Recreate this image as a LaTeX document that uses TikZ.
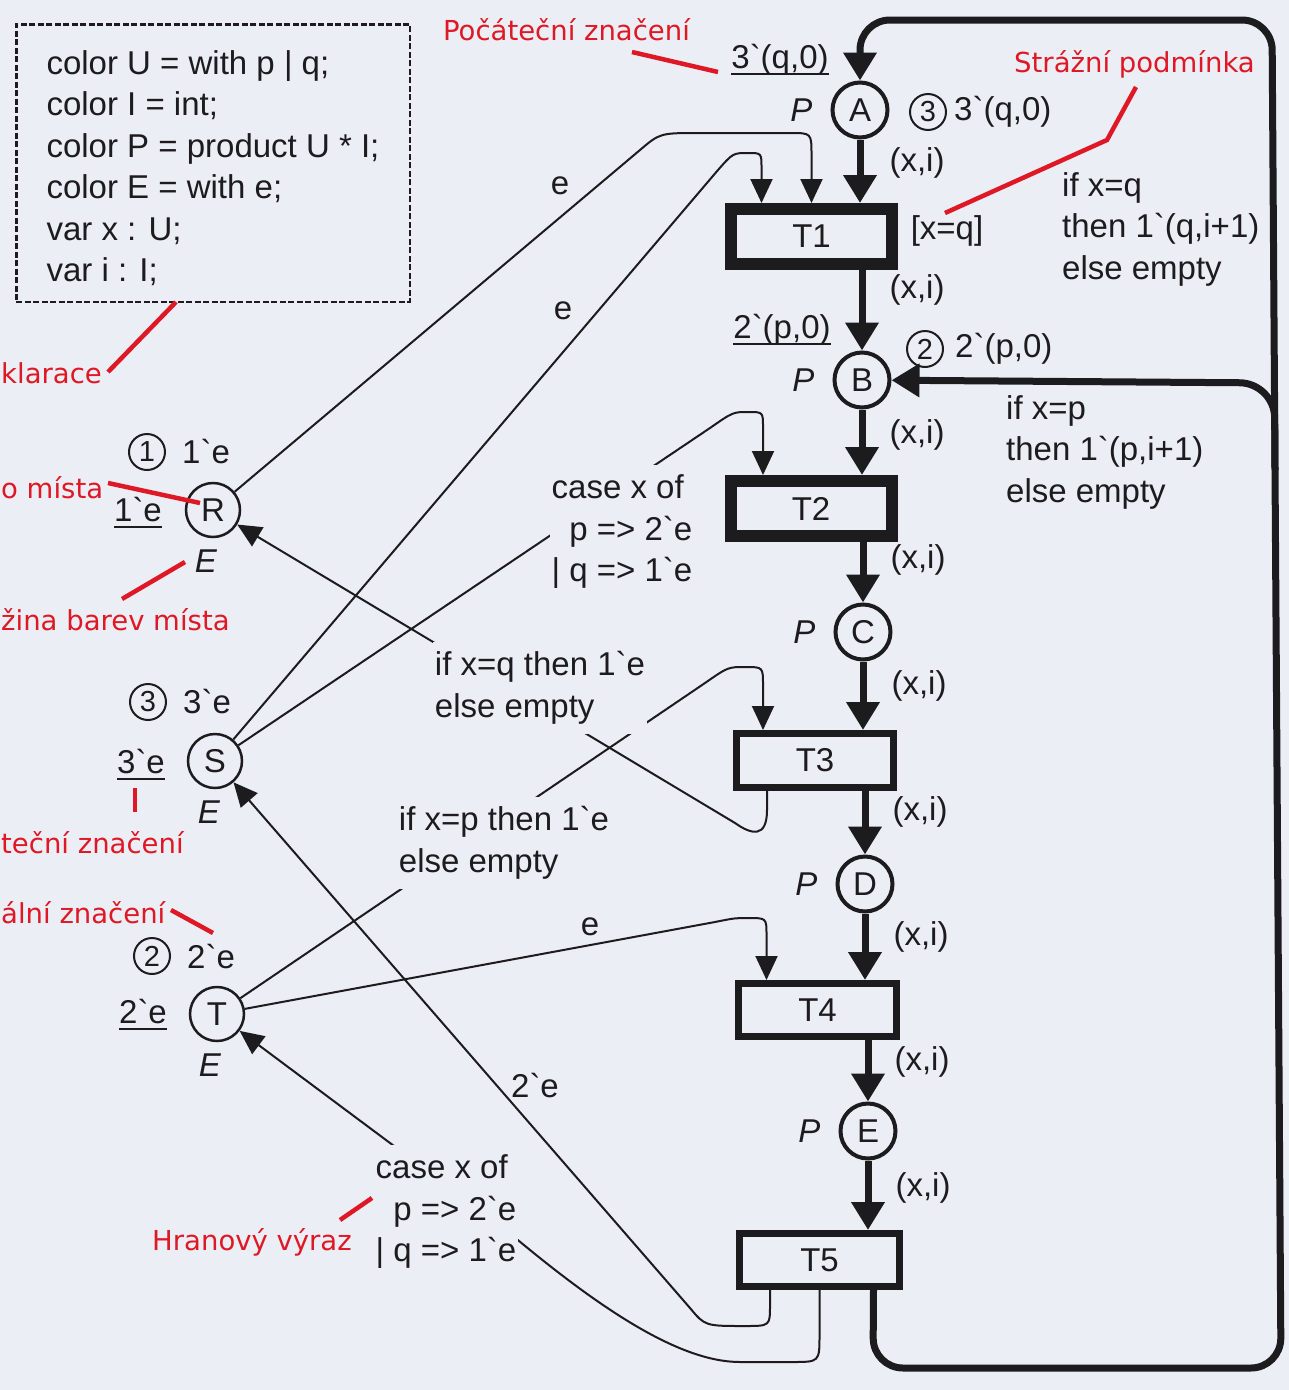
\documentclass[tikz,border=0pt]{standalone}
\usepackage{fontspec}
\setmainfont{Liberation Sans}
\newfontfamily\notefont{DejaVu Sans}
\usetikzlibrary{arrows.meta,positioning,calc}
\definecolor{paper}{RGB}{236,238,246}
\definecolor{ink}{RGB}{28,28,30}
\definecolor{notered}{RGB}{222,24,36}
\newcommand{\tk}{\textasciigrave}
\newsavebox\initbox
\newcommand{\initm}[1]{\sbox\initbox{#1}\rlap{\vrule width\wd\initbox height -4pt depth 6.5pt}\usebox\initbox}
\tikzset{
  place/.style={circle,draw=ink,line width=4pt,minimum size=55pt,inner sep=0pt,
    text=ink,font=\fontsize{33}{36}\selectfont},
  eplace/.style={place,line width=2.5pt,minimum size=54pt},
  trans/.style={rectangle,draw=ink,line width=7pt,minimum width=158pt,minimum height=53pt,
    inner sep=0pt,text=ink,font=\fontsize{33}{36}\selectfont},
  heavytrans/.style={trans,line width=12pt,minimum width=161pt,minimum height=55pt},
  cnt/.style={circle,draw=ink,line width=2pt,minimum size=36pt,inner sep=0pt,
    text=ink,font=\fontsize{29}{30}\selectfont},
  inscr/.style={font=\fontsize{33}{41.5}\selectfont,text=ink,inner sep=1pt,align=left},
  ptype/.style={font=\fontsize{33}{36}\selectfont\itshape,text=ink,inner sep=0pt},
  declbox/.style={rectangle,draw=ink,line width=2.5pt,dash pattern=on 6pt off 2.5pt,
    minimum width=393.5pt,minimum height=277.5pt,inner sep=0pt,align=left,
    font=\fontsize{33}{41.5}\selectfont,text=ink},
  mainarc/.style={draw=ink,line width=7pt,-{Triangle[width=32pt,length=28pt]}},
  arc/.style={draw=ink,line width=2pt,-{Triangle[width=22pt,length=24pt]}},
  note/.style={font=\notefont\fontsize{27.5}{30}\selectfont,text=notered,inner sep=0pt},
}
\begin{document}
\begin{tikzpicture}[x=1pt,y=-1pt,
  node distance=18pt,
  cover/.style={inscr,fill=paper,inner xsep=2pt,inner ysep=10pt},
  pointer/.style={draw=notered,line width=4.5pt},
]
  \fill[paper] (0,0) rectangle (1289,1390);
  \useasboundingbox (0,0) rectangle (1289,1390);

  % declarations
  \node[declbox] (decl) at (213,163) {%
    \rule{0pt}{34pt}color U = with p | q;\\
    color I = int;\\
    color P = product U * I;\\
    color E = with e;\\
    var x : U;\\
    var i : I;};

  % main column
  \node[place] (A) at (860,110) {A};
  \node[place] (B) at (862,380) {B};
  \node[place] (C) at (863,632) {C};
  \node[place] (D) at (865,884) {D};
  \node[place] (E) at (868,1131) {E};
  \node[heavytrans] (T1) at (811.5,236.5) {T1};
  \node[heavytrans] (T2) at (811,508.5) {T2};
  \node[trans,minimum width=157pt,minimum height=54pt] (T3) at (815,760.5) {T3};
  \node[trans] (T4) at (817.5,1010) {T4};
  \node[trans,minimum width=160pt] (T5) at (819.5,1260) {T5};

  \node[ptype,left=18pt of A] (pA) {P};
  \node[ptype,left=18pt of B] (pB) {P};
  \node[ptype,left=18pt of C] (pC) {P};
  \node[ptype,left=18pt of D] (pD) {P};
  \node[ptype,left=18pt of E] (pE) {P};

  \node[inscr] (mA) at (780,60) {\initm{3\tk(q,0)}};
  \node[inscr] (mB) at (782,330) {\initm{2\tk(p,0)}};
  \node[cnt] (cA) at (928,112) {3};
  \node[inscr,right=6pt of cA] (kA) {3\tk(q,0)};
  \node[cnt] (cB) at (925,349) {2};
  \node[inscr,right=10pt of cB] (kB) {2\tk(p,0)};

  % left places
  \node[eplace] (R) at (213,510) {R};
  \node[eplace] (S) at (215,761) {S};
  \node[eplace] (T) at (217,1014) {T};
  \node[ptype,below=11pt of R,xshift=-7pt] (eR) {E};
  \node[ptype,below=11pt of S,xshift=-6pt] (eS) {E};
  \node[ptype,below=11pt of T,xshift=-7pt] (eT) {E};
  \node[inscr] (mR) at (138,513) {\initm{1\tk e}};
  \node[inscr] (mS) at (141,765) {\initm{3\tk e}};
  \node[inscr] (mT) at (143,1015) {\initm{2\tk e}};
  \node[cnt] (cR) at (147,452) {1};
  \node[inscr,right=15pt of cR] (kR) {1\tk e};
  \node[cnt] (cS) at (148,702) {3};
  \node[inscr,right=15pt of cS] (kS) {3\tk e};
  \node[cnt] (cT) at (152,956) {2};
  \node[inscr,right=15pt of cT] (kT) {2\tk e};

  % arcs of the column
  \draw[mainarc] (A) -- (A |- T1.north);
  \draw[mainarc] (B |- T1.south) -- (B);
  \draw[mainarc] (B) -- (B |- T2.north);
  \draw[mainarc] (C |- T2.south) -- (C);
  \draw[mainarc] (C) -- (C |- T3.north);
  \draw[mainarc] (D |- T3.south) -- (D);
  \draw[mainarc] (D) -- (D |- T4.north);
  \draw[mainarc] (E |- T4.south) -- (E);
  \draw[mainarc] (E) -- (E |- T5.north);
  \draw[mainarc,rounded corners=30pt] ([xshift=54pt]T5.south) -- (873,1368)
    -- (1281,1368) -- (1272,20) -- (860,20) -- (A);
  \draw[mainarc,rounded corners=35pt] (1275,470) -- (1274.5,383) -- (B);

  \node[inscr] (xi1) at (917,163) {(x,i)};
  \node[inscr] (xi2) at (917,290) {(x,i)};
  \node[inscr] (xi3) at (917,435) {(x,i)};
  \node[inscr] (xi4) at (918,560) {(x,i)};
  \node[inscr] (xi5) at (919,686) {(x,i)};
  \node[inscr] (xi6) at (920,812) {(x,i)};
  \node[inscr] (xi7) at (921,937) {(x,i)};
  \node[inscr] (xi8) at (922,1062) {(x,i)};
  \node[inscr] (xi9) at (923,1188) {(x,i)};
  \node[inscr] (guard) at (947,231) {[x=q]};
  \node[inscr,anchor=west] (outA) at (1061,229) {if x=q\\then 1\tk(q,i+1)\\else empty};
  \node[inscr,anchor=west] (outB) at (1005,452) {if x=p\\then 1\tk(p,i+1)\\else empty};

  % arcs of the resources
  \draw[arc] (R) -- (640,150) .. controls (660,133) .. (700,133) -- (790,133)
    .. controls (811.5,133) .. (811.5,155) -- (T1.north);
  \draw[arc] (S) -- (718,170) .. controls (733,153) .. (748,153)
    .. controls (761.5,153) .. (761.5,168) -- ([xshift=-50pt]T1.north);
  \draw[arc] (S) -- (710,428) .. controls (733,412) .. (748,412)
    .. controls (763,412) .. (763,427) -- ([xshift=-48pt]T2.north);
  \draw[arc] (T) -- (705,683) .. controls (728,667) .. (745,667)
    .. controls (763,667) .. (763,685) -- ([xshift=-52pt]T3.north);
  \draw[arc] (T) -- (715,922) .. controls (735,918) .. (748,918)
    .. controls (766.5,918) .. (766.5,935) -- ([xshift=-51pt]T4.north);
  \draw[arc] ([xshift=-48pt]T3.south) -- (767,810)
    .. controls (767,838) and (752,835) .. (735,823) -- (R);
  \draw[arc] ([xshift=-49.5pt]T5.south) -- (770,1305) .. controls (770,1326) .. (745,1326)
    .. controls (705,1326) .. (690,1308) -- (S);
  \draw[arc] (T5.south) -- (819.5,1335) .. controls (819.5,1362) .. (792,1362) -- (740,1362)
    .. controls (680,1362) and (600,1310) .. (500,1225) -- (T);

  \node[inscr] (wR) at (560,186) {e};
  \node[inscr] (wS) at (563,311) {e};
  \node[inscr] (wT) at (590,927) {e};
  \node[inscr] (wS5) at (535,1085) {2\tk e};
  \node[cover] (caseA) at (622,532) {case x of\\\hphantom{| }p => 2\tk e\\| q => 1\tk e};
  \node[cover] (ifq) at (540,688) {if x=q then 1\tk e\\else empty};
  \node[cover] (ifp) at (504,843) {if x=p then 1\tk e\\else empty};
  \node[cover] (caseB) at (446,1212) {case x of\\\hphantom{| }p => 2\tk e\\| q => 1\tk e};

  % red notes
  \node[note] (nInit) at (566.5,30) {Počáteční značení};
  \node[note] (nGuard) at (1134.5,64) {Strážní podmínka};
  \node[note,anchor=west] (nDecl) at (1,373) {klarace};
  \node[note,anchor=west] (nName) at (1,488) {o místa};
  \node[note,anchor=west] (nColset) at (1,620) {žina barev místa};
  \node[note,anchor=west] (nInitS) at (1,843) {teční značení};
  \node[note,anchor=west] (nCur) at (1,913) {ální značení};
  \node[note] (nExpr) at (252,1242) {Hranový výraz};
  \draw[pointer] (632,52) -- (718,72);
  \draw[pointer] (1136,87) -- (1107,140) -- (945,213);
  \draw[pointer] (108,372) -- (176,302);
  \draw[pointer] (108,483) -- (200,503);
  \draw[pointer] (122,599) -- (185,562);
  \draw[pointer] (135,788) -- (135,812);
  \draw[pointer] (171,910) -- (213,933);
  \draw[pointer] (340,1220) -- (372,1198);
\end{tikzpicture}
\end{document}
